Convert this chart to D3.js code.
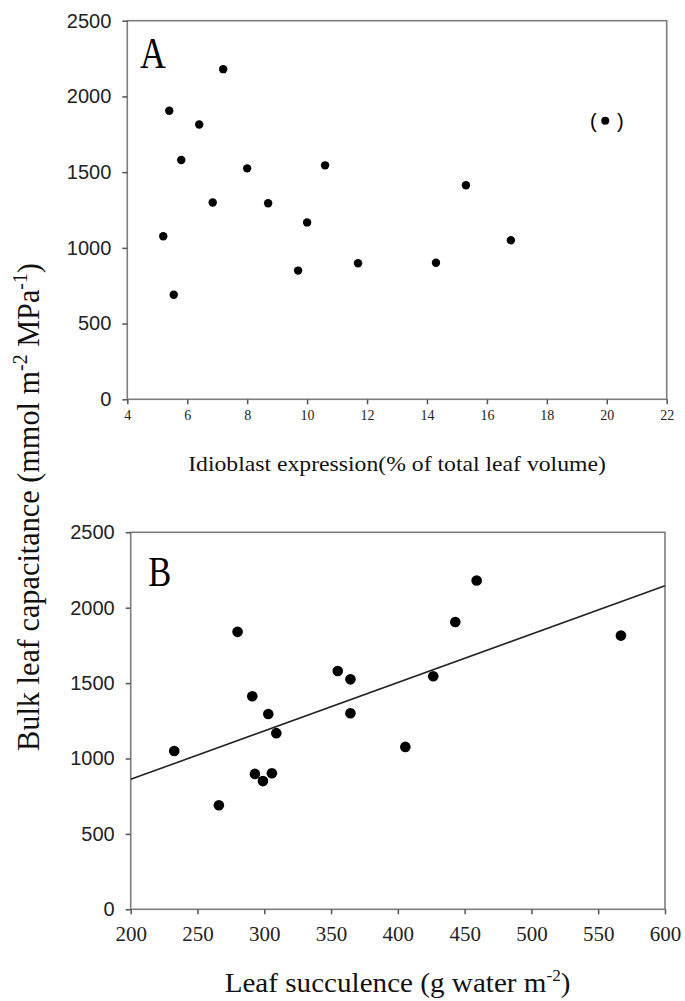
<!DOCTYPE html>
<html>
<head>
<meta charset="utf-8">
<script src="https://cdn.jsdelivr.net/npm/d3@7"></script>
<style>
  body { margin: 0; background: #fff; }
</style>
</head>
<body>
<script>
// Panel A: idioblast expression vs bulk leaf capacitance
var idioblastPct = [7.2, 5.4, 6.4, 5.8, 8.0, 10.6, 6.85, 8.7, 15.3, 10.0, 5.2, 16.8, 11.7, 14.3, 9.7, 5.55];
var capacitanceA = [2180, 1905, 1815, 1580, 1525, 1545, 1300, 1295, 1413, 1168, 1077, 1050, 898, 902, 850, 690];
// the bracketed outlier in A
var outlierPct = [19.95];
var outlierCap = [1840];

// Panel B: leaf succulence vs bulk leaf capacitance
var succulence = [459, 443, 567, 280, 355, 364.5, 426.5, 291, 303, 364.5, 309, 405.6, 232.6, 293, 305.7, 299, 266];
var capacitanceB = [2180, 1905, 1815, 1840, 1580, 1525, 1545, 1413, 1295, 1300, 1168, 1077, 1050, 898, 902, 850, 690];
// linear fit drawn in B
var fitIntercept = 220;
var fitSlope = 3.21;

var ticksXA = [4, 6, 8, 10, 12, 14, 16, 18, 20, 22];
var ticksXB = [200, 250, 300, 350, 400, 450, 500, 550, 600];
var ticksY = [0, 500, 1000, 1500, 2000, 2500];

var width = 685, height = 1001;
var frameColor = "#7d7d7d";

var svg = d3.select("body")
            .append("svg")
            .attr("width", width)
            .attr("height", height);

svg.append("rect").attr("width", width).attr("height", height).attr("fill", "#fff");

// scales
var xA = d3.scaleLinear().domain([4, 22]).range([127.3, 666.7]);
var yA = d3.scaleLinear().domain([0, 2500]).range([399.3, 20.7]);
var xB = d3.scaleLinear().domain([200, 600]).range([130.7, 665]);
var yB = d3.scaleLinear().domain([0, 2500]).range([909.3, 532.3]);

// stretch a text element horizontally so it spans w pixels
function fitText(sel, cx, cy, w, sy) {
  var bb = sel.node().getBBox();
  sel.attr("transform", `translate(${cx},${cy}) scale(${w / bb.width},${sy || 1})`);
}

function drawFrame(x, y) {
  svg.append("rect")
     .attr("x", x.range()[0])
     .attr("y", y.range()[1])
     .attr("width", x.range()[1] - x.range()[0])
     .attr("height", y.range()[0] - y.range()[1])
     .attr("fill", "none")
     .attr("stroke", frameColor)
     .attr("stroke-width", 1.6);
}

function drawAxes(x, y, xt, xFont, xSize, xPad) {
  var gx = svg.append("g")
              .attr("transform", `translate(0, ${y.range()[0]})`)
              .call(d3.axisBottom(x).tickValues(xt).tickFormat(d3.format("d"))
                      .tickSize(5).tickSizeOuter(0).tickPadding(xPad));
  gx.select(".domain").remove();
  gx.selectAll("line").attr("stroke", "#555").attr("stroke-width", 1.5);
  gx.selectAll("text").attr("font-family", xFont).attr("font-size", xSize).attr("fill", "#222");

  var gy = svg.append("g")
              .attr("transform", `translate(${x.range()[0]}, 0)`)
              .call(d3.axisLeft(y).tickValues(ticksY).tickFormat(d3.format("d"))
                      .tickSize(5).tickSizeOuter(0).tickPadding(11));
  gy.select(".domain").remove();
  gy.selectAll("line").attr("stroke", "#555").attr("stroke-width", 1.5);
  gy.selectAll("text").attr("font-family", "'Liberation Sans Narrow', 'Liberation Sans', Arial, sans-serif")
    .attr("font-size", 20).attr("fill", "#222");
}

// ---------- Panel A ----------
drawFrame(xA, yA);
drawAxes(xA, yA, ticksXA, "'Liberation Serif', serif", 14, 6);

svg.append("g").selectAll("circle")
   .data(idioblastPct)
   .join("circle")
   .attr("cx", function(d) { return xA(d); })
   .attr("cy", function(d, i) { return yA(capacitanceA[i]); })
   .attr("r", 4.2)
   .attr("fill", "#000");

svg.append("g").selectAll("circle")
   .data(outlierPct)
   .join("circle")
   .attr("cx", function(d) { return xA(d); })
   .attr("cy", function(d, i) { return yA(outlierCap[i]); })
   .attr("r", 4)
   .attr("fill", "#000");

// brackets round the outlier
outlierPct.forEach(function(d, i) {
  svg.append("text")
     .attr("x", xA(d) - 12)
     .attr("y", yA(outlierCap[i]) + 7)
     .attr("text-anchor", "middle")
     .attr("font-family", "'Liberation Sans', sans-serif")
     .attr("font-size", 20)
     .text("(");
  svg.append("text")
     .attr("x", xA(d) + 15)
     .attr("y", yA(outlierCap[i]) + 7)
     .attr("text-anchor", "middle")
     .attr("font-family", "'Liberation Sans', sans-serif")
     .attr("font-size", 20)
     .text(")");
});

var labA = svg.append("text")
   .attr("font-family", "'Liberation Serif', serif")
   .attr("font-size", 44)
   .text("A");
fitText(labA, 140, 68, 26);

var titleA = svg.append("text")
   .attr("text-anchor", "middle")
   .attr("font-family", "'Liberation Serif', serif")
   .attr("font-size", 21)
   .attr("fill", "#111")
   .text("Idioblast expression(% of total leaf volume)");
fitText(titleA, 397, 471, 418);

// ---------- Panel B ----------
drawFrame(xB, yB);
drawAxes(xB, yB, ticksXB, "'Liberation Serif', serif", 21, 12);

// fit line across the x domain
var line_plot = d3.line()
                  .x(function(d) { return xB(d); })
                  .y(function(d) { return yB(fitIntercept + fitSlope * d); });

svg.append("path")
   .attr("d", line_plot(xB.domain()))
   .attr("stroke", "#222")
   .attr("stroke-width", 1.6)
   .attr("fill", "none");

svg.append("g").selectAll("circle")
   .data(succulence)
   .join("circle")
   .attr("cx", function(d) { return xB(d); })
   .attr("cy", function(d, i) { return yB(capacitanceB[i]); })
   .attr("r", 5.3)
   .attr("fill", "#000");

var labB = svg.append("text")
   .attr("font-family", "'Liberation Serif', serif")
   .attr("font-size", 43)
   .text("B");
fitText(labB, 148.3, 586, 23);

var titleB = svg.append("text")
   .attr("text-anchor", "middle")
   .attr("font-family", "'Liberation Serif', serif")
   .attr("font-size", 27)
   .attr("fill", "#111");
titleB.append("tspan").text("Leaf succulence (g water m");
titleB.append("tspan").attr("font-size", 16).attr("dy", -11).text("-2");
titleB.append("tspan").attr("dy", 11).text(")");
fitText(titleB, 397.6, 992, 346);

// ---------- shared Y title ----------
var yTitle = svg.append("text")
   .attr("text-anchor", "middle")
   .attr("font-family", "'Liberation Serif', serif")
   .attr("font-size", 26)
   .attr("fill", "#111");
yTitle.append("tspan").text("Bulk leaf capacitance (mmol m");
yTitle.append("tspan").attr("font-size", 17).attr("dy", -10).text("-2");
yTitle.append("tspan").attr("dy", 10).text(" MPa");
yTitle.append("tspan").attr("font-size", 17).attr("dy", -10).text("-1");
yTitle.append("tspan").attr("dy", 10).text(")");
var ybb = yTitle.node().getBBox();
yTitle.attr("transform", `translate(39, 507) rotate(-90) scale(${488 / ybb.width}, 1.25)`);
</script>
</body>
</html>
